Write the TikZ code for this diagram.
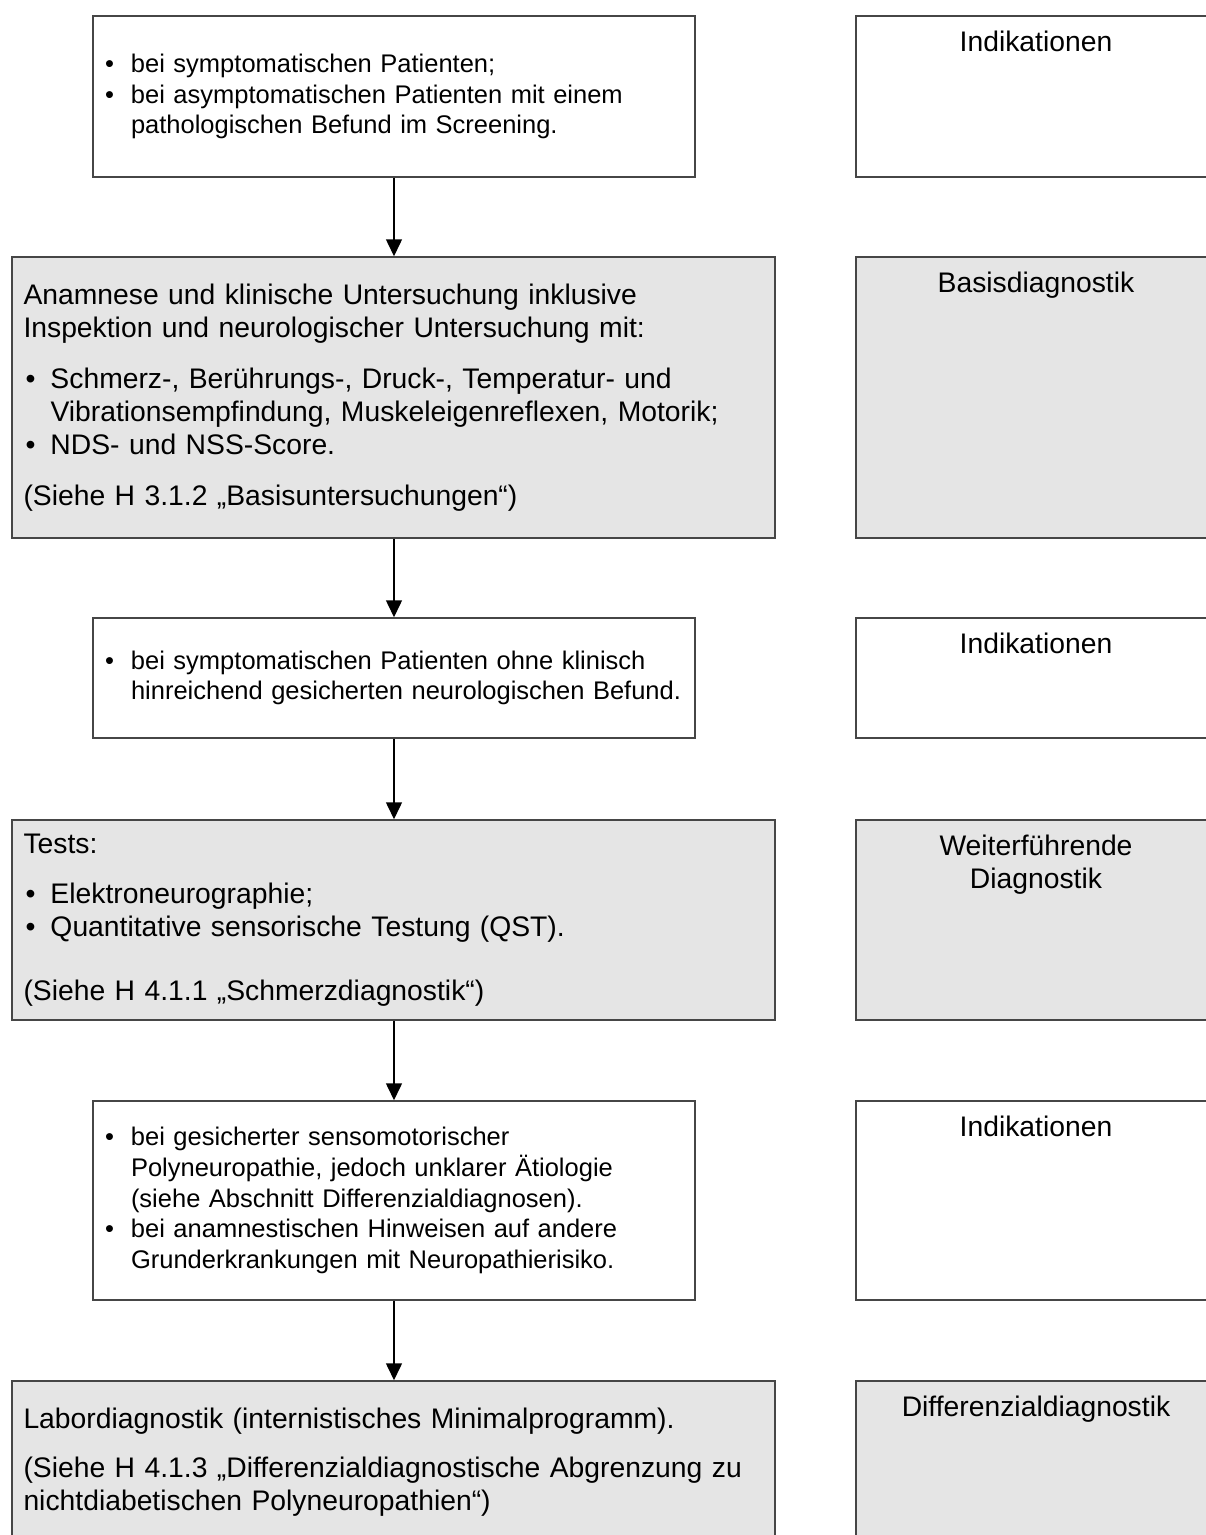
\documentclass[tikz,border=0pt]{standalone}
\usepackage{fontspec}
\setmainfont{Liberation Sans}
\usetikzlibrary{arrows.meta}
\definecolor{boxline}{RGB}{70,70,70}
\definecolor{boxfill}{RGB}{229,229,229}
\newcommand{\smallfnt}{\fontsize{25.5pt}{30.7pt}\selectfont}
\newcommand{\bigfnt}{\fontsize{28.3pt}{33pt}\selectfont}
\newcommand{\bulW}{\makebox[27pt][l]{\hspace{1pt}\textbullet}}
\newcommand{\indW}{\hspace*{27pt}}
\newcommand{\bulG}{\makebox[27pt][l]{\hspace{2pt}\textbullet}}
\newcommand{\indG}{\hspace*{27pt}}
\tikzset{
  wbox/.style={draw=boxline, line width=1.5pt, fill=white, minimum width=602pt,
    text width=580pt, inner xsep=11pt, inner ysep=0pt, align=left, font=\smallfnt},
  gbox/.style={draw=boxline, line width=1.5pt, fill=boxfill, minimum width=763pt,
    text width=740pt, inner xsep=11.5pt, inner ysep=0pt, align=left, font=\bigfnt},
  rbox/.style={draw=boxline, line width=1.5pt, minimum width=360pt, inner sep=0pt},
  rlab/.style={anchor=north, align=center, font=\bigfnt, inner sep=0pt},
  flow/.style={line width=1.5pt, draw=black, -{Triangle[width=16pt,length=17pt]}}
}
\begin{document}
\begin{tikzpicture}[x=1pt,y=-1pt]
\useasboundingbox (0,0) rectangle (1206,1535);
\clip (0,0) rectangle (1206,1535);
\fill[white] (0,0) rectangle (1206,1535);

% left column
\node[wbox, minimum height=161pt] (b1) at (394,96.5) {%
\bulW bei symptomatischen Patienten;\\
\bulW bei asymptomatischen Patienten mit einem\\
\indW pathologischen Befund im Screening.};

\node[gbox, minimum height=281pt] (b2) at (393.5,397.5) {%
Anamnese und klinische Untersuchung inklusive\\
Inspektion und neurologischer Untersuchung mit:\\[18pt]
\bulG Schmerz-, Berührungs-, Druck-, Temperatur- und\\
\indG Vibrationsempfindung, Muskeleigenreflexen, Motorik;\\
\bulG NDS- und NSS-Score.\\[18pt]
(Siehe H 3.1.2 „Basisuntersuchungen“)};

\node[wbox, minimum height=120pt] (b3) at (394,678) {%
\bulW bei symptomatischen Patienten ohne klinisch\\
\indW hinreichend gesicherten neurologischen Befund.};

\node[gbox, minimum height=200pt] (b4) at (393.5,920) {%
Tests:\\[17pt]
\bulG Elektroneurographie;\\
\bulG Quantitative sensorische Testung (QST).\\[31pt]
(Siehe H 4.1.1 „Schmerzdiagnostik“)};

\node[wbox, minimum height=199pt] (b5) at (394,1200.5) {%
\bulW bei gesicherter sensomotorischer\\
\indW Polyneuropathie, jedoch unklarer Ätiologie\\
\indW (siehe Abschnitt Differenzialdiagnosen).\\
\bulW bei anamnestischen Hinweisen auf andere\\
\indW Grunderkrankungen mit Neuropathierisiko.};

\node[gbox, minimum height=162pt] (b6) at (393.5,1462) {%
Labordiagnostik (internistisches Minimalprogramm).\\[16pt]
(Siehe H 4.1.3 „Differenzialdiagnostische Abgrenzung zu\\
nichtdiabetischen Polyneuropathien“)};

% right column
\node[rbox, fill=white, minimum height=161pt] (r1) at (1036,96.5) {};
\node[rbox, fill=boxfill, minimum height=281pt] (r2) at (1036,397.5) {};
\node[rbox, fill=white, minimum height=120pt] (r3) at (1036,678) {};
\node[rbox, fill=boxfill, minimum height=200pt] (r4) at (1036,920) {};
\node[rbox, fill=white, minimum height=199pt] (r5) at (1036,1200.5) {};
\node[rbox, fill=boxfill, minimum height=162pt] (r6) at (1036,1462) {};

\node[rlab] (t1) at ([yshift=-16pt]r1.north) {Indikationen};
\node[rlab] (t2) at ([yshift=-16pt]r2.north) {Basisdiagnostik};
\node[rlab] (t3) at ([yshift=-16pt]r3.north) {Indikationen};
\node[rlab] (t4) at ([yshift=-16pt]r4.north) {Weiterführende\\Diagnostik};
\node[rlab] (t5) at ([yshift=-16pt]r5.north) {Indikationen};
\node[rlab] (t6) at ([yshift=-16pt]r6.north) {Differenzialdiagnostik};

% connectors
\draw[flow] (b1.south) -- (b1.south |- b2.north);
\draw[flow] (b2.south -| b1.south) -- (b1.south |- b3.north);
\draw[flow] (b3.south) -- (b3.south |- b4.north);
\draw[flow] (b4.south -| b3.south) -- (b3.south |- b5.north);
\draw[flow] (b5.south) -- (b5.south |- b6.north);
\end{tikzpicture}
\end{document}
